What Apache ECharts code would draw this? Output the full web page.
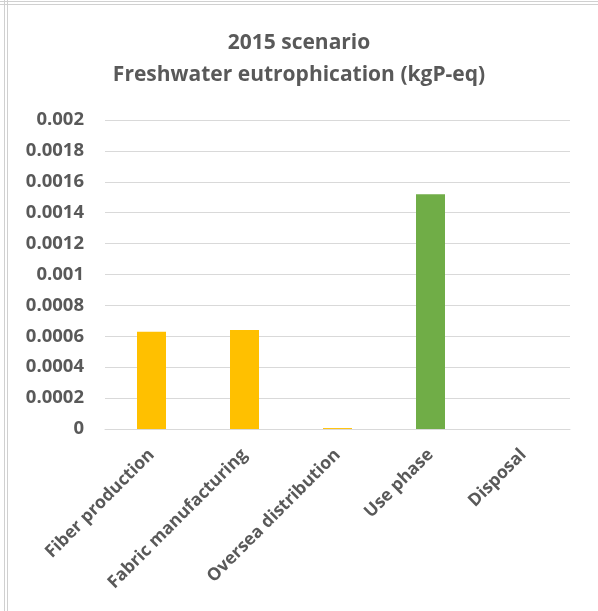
<!DOCTYPE html>
<html>
<head>
<meta charset="utf-8">
<script src="https://cdn.jsdelivr.net/npm/echarts@6/dist/echarts.min.js"></script>
<style>
  html, body { margin: 0; padding: 0; background: #fff; }
  #chart { width: 598px; height: 611px; }
</style>
</head>
<body>
<div id="chart"></div>
<script>
// Life-cycle stages and their freshwater eutrophication impact (kgP-eq)
const categories = ['Fiber production', 'Fabric manufacturing', 'Oversea distribution', 'Use phase', 'Disposal'];
const impactValues = [0.00063, 0.00064, 0.000006, 0.00152, 0];
const barColors = ['#FFC000', '#FFC000', '#FFC000', '#70AD47', '#FFC000'];
const yTicks = { min: 0, max: 0.002, interval: 0.0002 };
const titleLines = ['2015 scenario', 'Freshwater eutrophication (kgP-eq)'];

const textColor = '#595959';
const fontFamily = '"Open Sans", Calibri, sans-serif';

const chart = echarts.init(document.getElementById('chart'), null, { renderer: 'canvas' });

chart.setOption({
  backgroundColor: '#ffffff',
  animation: false,
  title: {
    text: titleLines.join('\n'),
    left: 'center',
    top: 22,
    textStyle: {
      color: textColor,
      fontFamily: fontFamily,
      fontWeight: 'bold',
      fontSize: 21,
      lineHeight: 32
    }
  },
  grid: { left: 105, right: 28, top: 120, bottom: 182, containLabel: false },
  xAxis: {
    type: 'category',
    data: categories,
    axisLine: { show: true, lineStyle: { color: '#d9d9d9', width: 1 } },
    axisTick: { show: false },
    axisLabel: {
      rotate: 45,
      interval: 0,
      margin: 23,
      color: textColor,
      fontFamily: fontFamily,
      fontWeight: 'bold',
      fontSize: 17.5
    }
  },
  yAxis: {
    type: 'value',
    min: yTicks.min,
    max: yTicks.max,
    interval: yTicks.interval,
    axisLine: { show: false },
    axisTick: { show: false },
    splitLine: { lineStyle: { color: '#d9d9d9', width: 1 } },
    axisLabel: {
      margin: 21,
      color: textColor,
      fontFamily: fontFamily,
      fontWeight: 'bold',
      fontSize: 18.5,
      formatter: v => String(parseFloat(v.toPrecision(6)))
    }
  },
  series: [{
    type: 'bar',
    barWidth: 29,
    data: impactValues.map((v, i) => ({ value: v, itemStyle: { color: barColors[i] } }))
  }],
  graphic: [
    // outer frame lines
    { type: 'rect', shape: { x: 0, y: 1, width: 598, height: 1 }, style: { fill: '#d0d0d0' } },
    { type: 'rect', shape: { x: 0, y: 4, width: 598, height: 1 }, style: { fill: '#d0d0d0' } },
    { type: 'rect', shape: { x: 4, y: 0, width: 1, height: 611 }, style: { fill: '#d0d0d0' } },
    { type: 'rect', shape: { x: 7, y: 0, width: 1, height: 611 }, style: { fill: '#d0d0d0' } }
  ]
});
</script>
</body>
</html>
